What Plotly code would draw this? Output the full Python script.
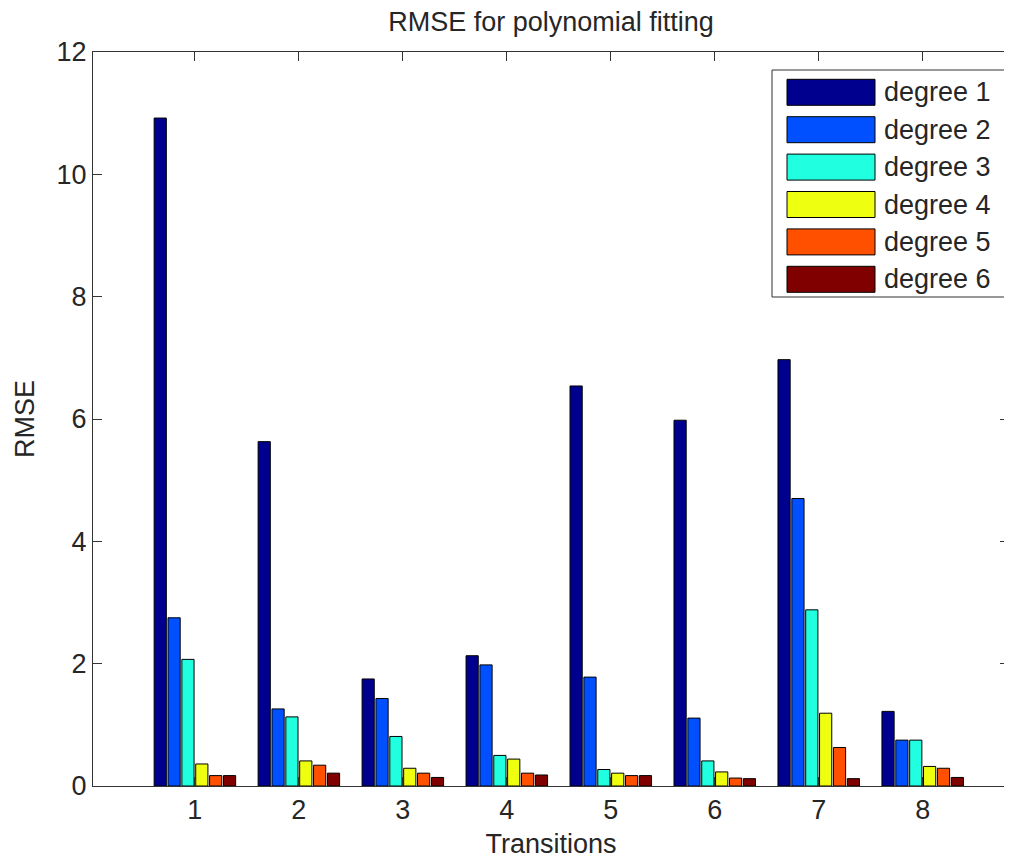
import plotly.graph_objects as go

transitions = [1, 2, 3, 4, 5, 6, 7, 8]
series_names = ["degree 1", "degree 2", "degree 3", "degree 4", "degree 5", "degree 6"]
series_colors = ["#00008F", "#0050FF", "#20FFDF", "#EFFF10", "#FF5000", "#800000"]

degree1 = [10.92, 5.63, 1.75, 2.13, 6.54, 5.98, 6.97, 1.22]
degree2 = [2.75, 1.26, 1.43, 1.98, 1.78, 1.11, 4.70, 0.75]
degree3 = [2.07, 1.13, 0.81, 0.50, 0.27, 0.41, 2.88, 0.75]
degree4 = [0.36, 0.41, 0.29, 0.44, 0.21, 0.23, 1.19, 0.32]
degree5 = [0.17, 0.34, 0.21, 0.21, 0.17, 0.13, 0.63, 0.29]
degree6 = [0.17, 0.21, 0.14, 0.18, 0.17, 0.12, 0.12, 0.14]
series_values = [degree1, degree2, degree3, degree4, degree5, degree6]

y_ticks = [0, 2, 4, 6, 8, 10, 12]

FONT = "Liberation Sans, Arial, sans-serif"
TXT = "#262626"
FS = 27

# the page body adds an 8px margin; work in page pixels and subtract it
OFF = 8
W, H = 1012 - OFF, 859 - OFF
L, R, T, B = 93 - OFF, 1009 - OFF, 52 - OFF, 786 - OFF

fig = go.Figure()
for name, color, vals in zip(series_names, series_colors, series_values):
    fig.add_trace(go.Bar(
        x=transitions, y=vals, name=name,
        marker=dict(color=color, line=dict(color="black", width=1)),
        showlegend=False,
    ))

fig.update_layout(
    width=W, height=H,
    margin=dict(l=L, r=W - R, t=T, b=H - B, autoexpand=False),
    paper_bgcolor="white", plot_bgcolor="white",
    barmode="group", bargap=0.2, bargroupgap=0.12,
    font=dict(family=FONT, size=FS, color=TXT),
    title=dict(text="RMSE for polynomial fitting", x=(L + R) / 2 / W, xanchor="center",
               y=1 - (22 - OFF) / H, yanchor="middle", yref="container",
               font=dict(family=FONT, size=FS, color=TXT)),
    xaxis=dict(
        range=[0.02, 8.83], tickmode="array", tickvals=transitions,
        ticks="inside", ticklen=9, tickcolor="#333", showline=True, linecolor="#333",
        linewidth=1, mirror="ticks", showgrid=False, zeroline=False,
        tickfont=dict(size=FS, color=TXT),
        title=dict(text="Transitions", font=dict(size=FS, color=TXT), standoff=10),
    ),
    yaxis=dict(
        range=[0, 12], tickmode="array", tickvals=y_ticks,
        ticks="inside", ticklen=9, tickcolor="#333", showline=True, linecolor="#333",
        linewidth=1, mirror="ticks", showgrid=False, zeroline=False,
        tickfont=dict(size=FS, color=TXT),
        title=dict(text="RMSE", font=dict(size=FS, color=TXT), standoff=14),
    ),
)

# Manual legend (MATLAB style wide swatches), page pixel coordinates
def px(xp):
    return (xp - OFF - L) / (R - L)

def py(yp):
    return (B - (yp - OFF)) / (B - T)

fig.add_shape(type="rect", xref="paper", yref="paper",
              x0=px(772), x1=px(1007), y0=py(297), y1=py(70),
              line=dict(color="#333", width=1), fillcolor="white", layer="above")
row_y0 = 92.3
row_dy = 37.4
for i, (name, color) in enumerate(zip(series_names, series_colors)):
    cy = row_y0 + i * row_dy
    fig.add_shape(type="rect", xref="paper", yref="paper",
                  x0=px(787), x1=px(875), y0=py(cy + 13), y1=py(cy - 13),
                  line=dict(color="black", width=1), fillcolor=color, layer="above")
    fig.add_annotation(xref="paper", yref="paper",
                       x=px(882), y=py(cy),
                       text=name, showarrow=False, xanchor="left", yanchor="middle",
                       font=dict(family=FONT, size=FS, color=TXT))

fig.write_html("out.html")
